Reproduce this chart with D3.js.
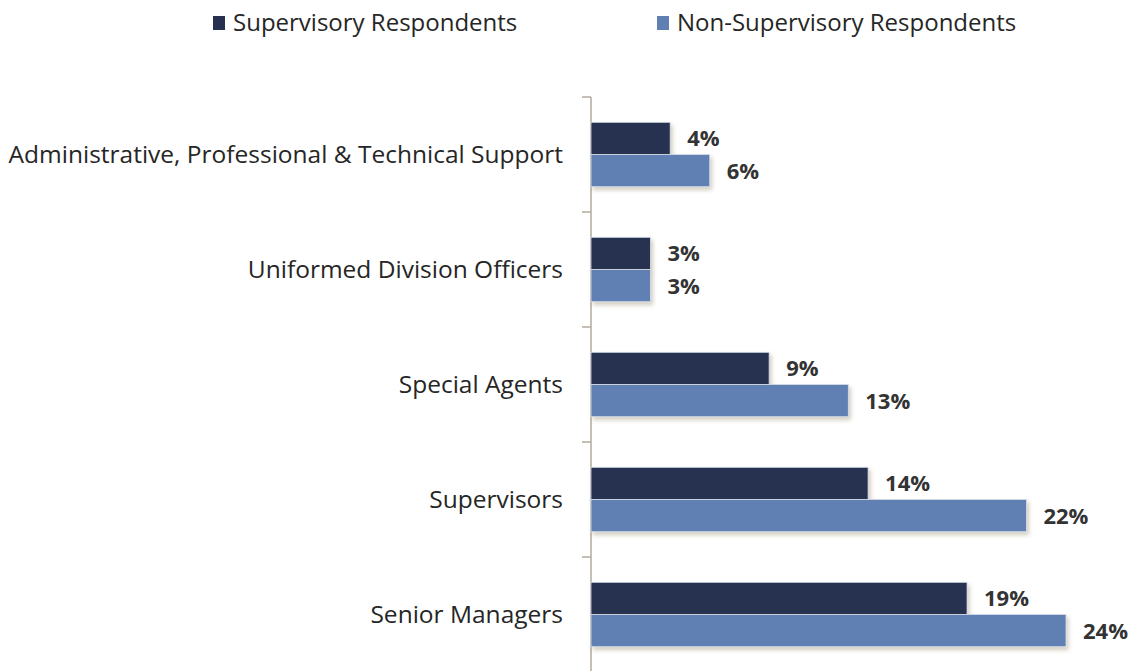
<!DOCTYPE html>
<html>
<head>
<meta charset="utf-8">
<script src="https://cdn.jsdelivr.net/npm/d3@7"></script>
<style>
  body { margin: 0; background: #fff; }
  text { font-family: "Open Sans", sans-serif; fill: #262626; }
</style>
</head>
<body>
<script>
// chart data
var categories = [
    "Administrative, Professional & Technical Support",
    "Uniformed Division Officers",
    "Special Agents",
    "Supervisors",
    "Senior Managers"
];
var seriesNames = ["Supervisory Respondents", "Non-Supervisory Respondents"];
var supervisory = [4, 3, 9, 14, 19];
var nonSupervisory = [6, 3, 13, 22, 24];
var colors = ["#27314f", "#6080b3"];

var width = 1130, height = 671;

var svg = d3.select("body")
    .append("svg")
    .attr("width", width)
    .attr("height", height);

//drop shadow for bars
var defs = svg.append("defs");
var filter = defs.append("filter")
    .attr("id", "shadow")
    .attr("x", "-5%").attr("y", "-20%")
    .attr("width", "115%").attr("height", "160%");
filter.append("feDropShadow")
    .attr("dx", 2).attr("dy", 3)
    .attr("stdDeviation", 2)
    .attr("flood-color", "#7a6a40")
    .attr("flood-opacity", 0.35);

var x = d3.scaleLinear()
    .domain([0, 24])
    .range([591, 1066]);

var y = d3.scaleBand()
    .domain(categories)
    .range([97, 672])
    .paddingInner(0.44)
    .paddingOuter(0.22);

var y1 = d3.scaleBand()
    .domain([0, 1])
    .range([0, y.bandwidth()]);

var rows = categories.map(function(c, i){
    return { cat: c, vals: [supervisory[i], nonSupervisory[i]] };
});

//axis with ticks at the category boundaries
var axisG = svg.append("g").attr("class", "axis");
axisG.append("line")
    .attr("x1", 591).attr("x2", 591)
    .attr("y1", 97).attr("y2", 672)
    .style("stroke", "#b3aa9c")
    .style("stroke-width", 1.5);
var step = y.step();
d3.range(categories.length + 1).forEach(function(i){
    axisG.append("line")
        .attr("x1", 582).attr("x2", 591)
        .attr("y1", 97 + i * step).attr("y2", 97 + i * step)
        .style("stroke", "#b3aa9c")
        .style("stroke-width", 1.5);
});

var groups = svg.selectAll(".group")
    .data(rows)
    .enter()
    .append("g")
    .attr("class", "group")
    .attr("transform", function(d){ return "translate(0," + y(d.cat) + ")"; });

groups.selectAll("rect")
    .data(function(d){ return d.vals; })
    .enter()
    .append("rect")
    .attr("x", x(0))
    .attr("y", function(d, i){ return y1(i); })
    .attr("width", function(d){ return x(d) - x(0); })
    .attr("height", y1.bandwidth())
    .style("fill", function(d, i){ return colors[i]; })
    .style("stroke", "#d8dde8")
    .style("stroke-width", 0.8)
    .attr("filter", "url(#shadow)");

groups.selectAll(".val")
    .data(function(d){ return d.vals; })
    .enter()
    .append("text")
    .attr("class", "val")
    .attr("x", function(d){ return x(d) + 17; })
    .attr("y", function(d, i){ return y1(i) + y1.bandwidth() / 2; })
    .attr("dy", "0.36em")
    .style("font-size", "22px")
    .style("font-weight", "bold")
    .style("fill", "#333")
    .text(function(d){ return d + "%"; });

//category labels
svg.selectAll(".catLabel")
    .data(categories)
    .enter()
    .append("text")
    .attr("class", "catLabel")
    .attr("x", 563)
    .attr("y", function(d){ return y(d) + y.bandwidth() / 2; })
    .attr("dy", "0.35em")
    .attr("text-anchor", "end")
    .style("font-size", "24.5px")
    .text(function(d){ return d; });

//legend
var legendX = [213, 657];
var legend = svg.selectAll(".legend")
    .data(seriesNames)
    .enter()
    .append("g")
    .attr("class", "legend")
    .attr("transform", function(d, i){ return "translate(" + legendX[i] + ",16)"; });
legend.append("rect")
    .attr("width", 12).attr("height", 14)
    .style("fill", function(d, i){ return colors[i]; });
legend.append("text")
    .attr("x", 20)
    .attr("y", 7)
    .attr("dy", "0.35em")
    .style("font-size", "24px")
    .text(function(d){ return d; });
</script>
</body>
</html>
